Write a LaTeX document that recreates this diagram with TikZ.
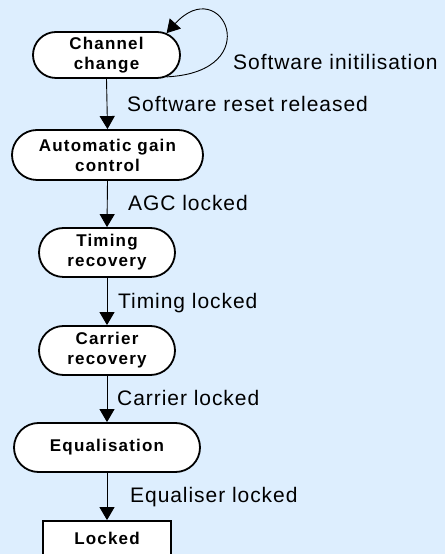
\documentclass[tikz,border=0pt]{standalone}
\usepackage{fontspec}
\setmainfont{Liberation Sans}
\newfontfamily\statefam{Liberation Sans}[LetterSpace=7]
\newfontfamily\lblfam{Liberation Sans}[LetterSpace=4.5]
\usetikzlibrary{shapes.misc,arrows.meta}
\definecolor{bg}{HTML}{DDEEFE}
\begin{document}
\begin{tikzpicture}[x=1pt,y=1pt,
  state/.style={rounded rectangle, draw, line width=1.8pt, fill=white, inner sep=0pt,
    minimum height=49pt, align=center, font=\statefam\bfseries\fontsize{17}{20}\selectfont},
  boxstate/.style={rectangle, draw, line width=1.8pt, fill=white, inner sep=0pt,
    minimum width=128pt, minimum height=35pt, font=\statefam\bfseries\fontsize{17}{20}\selectfont},
  lbl/.style={anchor=base west, inner sep=0pt, font=\lblfam\fontsize{21}{24}\selectfont},
  flow/.style={line width=0.9pt, -{Triangle[width=15pt,length=13pt]}}]
\useasboundingbox (0,0) rectangle (445,554);
\clip (0,0) rectangle (445,554);
\fill[bg] (0,0) rectangle (445,554);

\node[state, minimum width=147pt, minimum height=46pt] (ch) at (106.5,499) {Channel\\change};
\node[state, minimum width=191pt, minimum height=50pt] (agc) at (107.5,399) {Automatic gain\\control};
\node[state, minimum width=136pt] (tim) at (107,301.5) {Timing\\recovery};
\node[state, minimum width=136pt] (car) at (107,203.5) {Carrier\\recovery};
\node[state, minimum width=186pt] (eq) at (107,106.5) {Equalisation};
\node[boxstate] (lock) at (107,15.5) {Locked};

\draw[flow] (ch.-20) .. controls (268,482) and (222,582) .. (ch.20);
\draw[flow] (ch.south) -- (agc.north);
\draw[flow] (agc.south) -- (tim.north);
\draw[flow] (tim.south) -- (car.north);
\draw[flow] (car.south) -- (eq.north);
\draw[flow] (eq.south) -- (lock.north);

\node[lbl] (l0) at (233,484) {Software initilisation};
\node[lbl] (l1) at (127,442.3) {Software reset released};
\node[lbl] (l2) at (128,343) {AGC locked};
\node[lbl] (l3) at (118,245.7) {Timing locked};
\node[lbl] (l4) at (117,148) {Carrier locked};
\node[lbl] (l5) at (130,51.3) {Equaliser locked};
\end{tikzpicture}
\end{document}
